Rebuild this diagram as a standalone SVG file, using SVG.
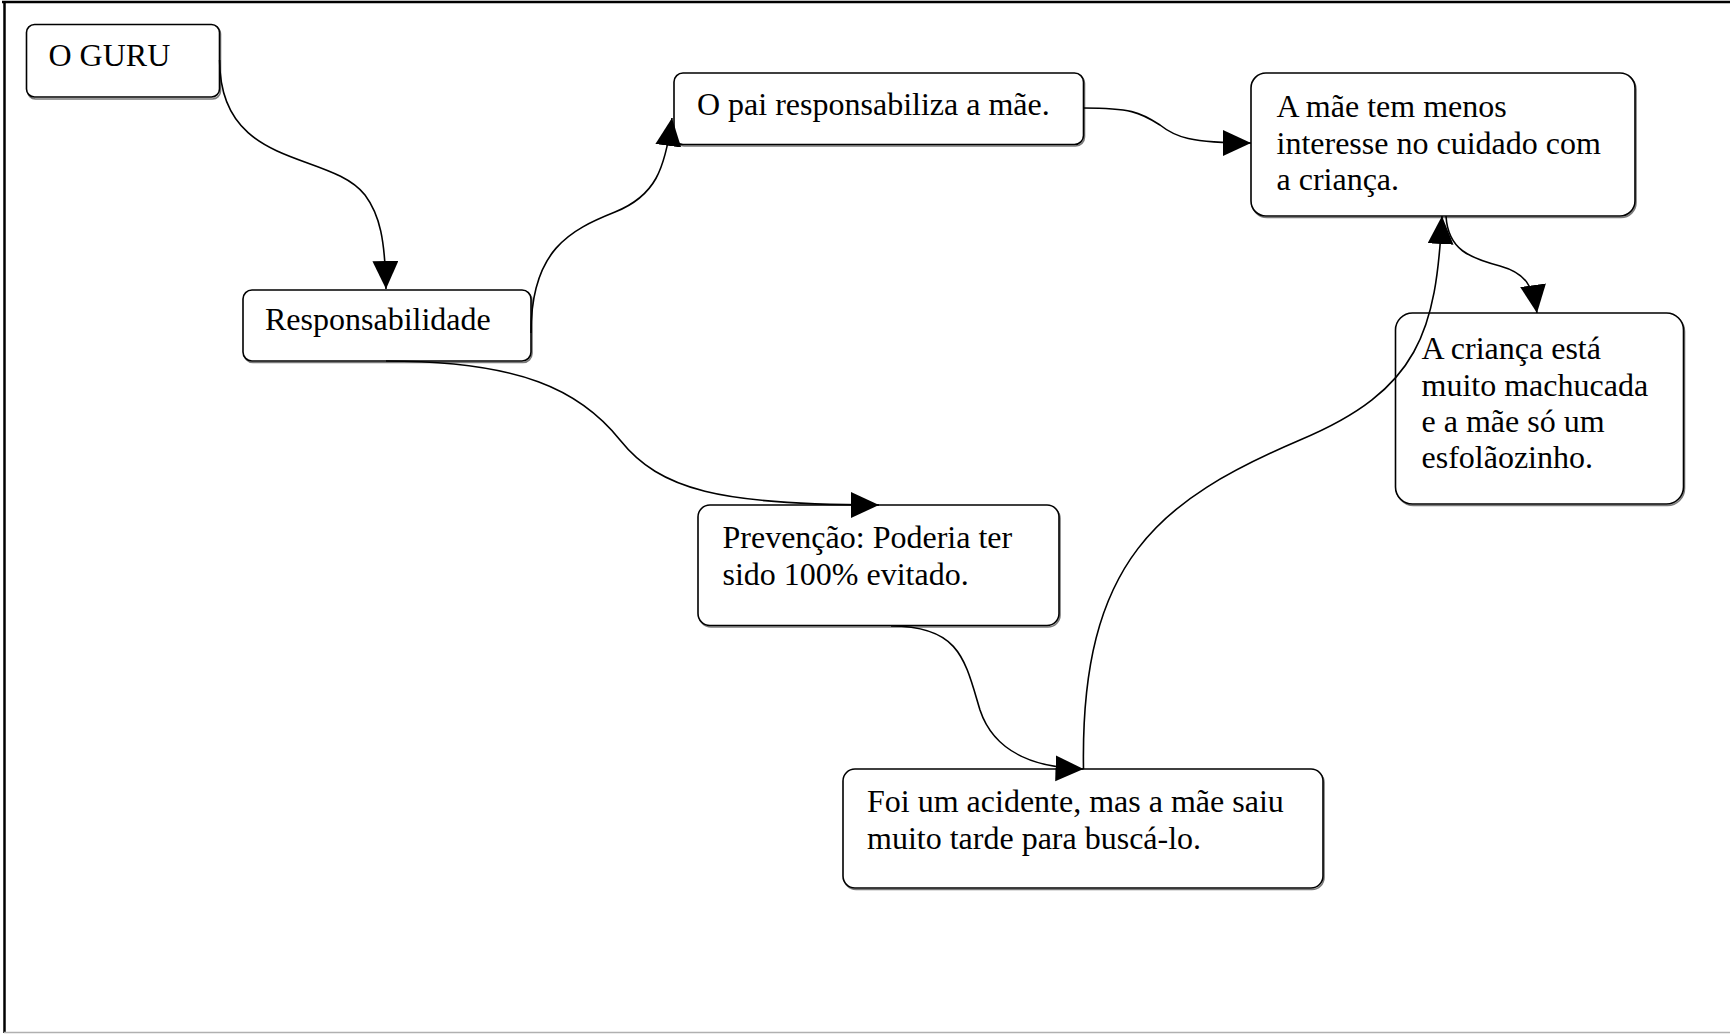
<svg xmlns="http://www.w3.org/2000/svg" width="1730" height="1034" viewBox="0 0 1730 1034">
  <style>
    .frame { fill: none; }
    .box { fill: #ffffff; stroke: #000000; stroke-width: 1.6; }
    .shadow { fill: none; stroke: #7a7a7a; stroke-width: 1.6; }
    .label { font-family: "Liberation Serif", "Times New Roman", serif; font-size: 32px; fill: #000000; }
    .edge { fill: none; stroke: #000000; stroke-width: 1.6; }
  </style>
  <defs>
    <marker id="arrow" markerUnits="userSpaceOnUse" markerWidth="30" markerHeight="28" refX="28" refY="13" orient="auto" viewBox="0 0 30 28">
      <path d="M0,0 L28,13 L0,26 z" fill="#000000"/>
    </marker>
  </defs>

  <rect width="1730" height="1034" fill="#ffffff"/>
  <!-- page frame -->
  <line x1="2" y1="2" x2="1730" y2="2" stroke="#000" stroke-width="2.5"/>
  <line x1="4.5" y1="2" x2="4.5" y2="1033" stroke="#000" stroke-width="2.5"/>
  <line x1="4" y1="1032.5" x2="1730" y2="1032.5" stroke="#b0b0b0" stroke-width="1.6"/>

  <!-- nodes -->
  <g id="node-guru">
    <rect class="shadow" x="27.5" y="26" width="193" height="73" rx="8"/>
    <rect class="box" x="26.5" y="24.5" width="193" height="72.5" rx="8"/>
    <text class="label" x="48.5" y="66">O GURU</text>
  </g>
  <g id="node-responsabilidade">
    <rect class="shadow" x="244" y="291.5" width="288" height="71" rx="9"/>
    <rect class="box" x="243" y="290" width="288" height="71" rx="9"/>
    <text class="label" x="265" y="330">Responsabilidade</text>
  </g>
  <g id="node-pai">
    <rect class="shadow" x="675" y="74.5" width="409.5" height="71.5" rx="9"/>
    <rect class="box" x="674" y="73" width="409.5" height="71.5" rx="9"/>
    <text class="label" x="697" y="115">O pai responsabiliza a mãe.</text>
  </g>
  <g id="node-mae-interesse">
    <rect class="shadow" x="1252" y="74.5" width="384" height="143" rx="15"/>
    <rect class="box" x="1251" y="73" width="384" height="143" rx="15"/>
    <text class="label" x="1276.5" y="117">A mãe tem menos</text>
    <text class="label" x="1276.5" y="153.5">interesse no cuidado com</text>
    <text class="label" x="1276.5" y="190">a criança.</text>
  </g>
  <g id="node-crianca">
    <rect class="shadow" x="1396.5" y="314.5" width="288" height="191" rx="17"/>
    <rect class="box" x="1395.5" y="313" width="288" height="191" rx="17"/>
    <text class="label" x="1421.5" y="359">A criança está</text>
    <text class="label" x="1421.5" y="395.5">muito machucada</text>
    <text class="label" x="1421.5" y="432">e a mãe só um</text>
    <text class="label" x="1421.5" y="468">esfolãozinho.</text>
  </g>
  <g id="node-prevencao">
    <rect class="shadow" x="699" y="506.5" width="361" height="120.5" rx="12"/>
    <rect class="box" x="698" y="505" width="361" height="120.5" rx="12"/>
    <text class="label" x="722.5" y="548">Prevenção: Poderia ter</text>
    <text class="label" x="722.5" y="584.5">sido 100% evitado.</text>
  </g>
  <g id="node-acidente">
    <rect class="shadow" x="844" y="770.5" width="480" height="119" rx="12"/>
    <rect class="box" x="843" y="769" width="480" height="119" rx="12"/>
    <text class="label" x="867" y="812">Foi um acidente, mas a mãe saiu</text>
    <text class="label" x="867" y="848.5">muito tarde para buscá-lo.</text>
  </g>

  <!-- connectors -->
  <g id="connectors">
    <path class="edge" marker-end="url(#arrow)" d="M 219.6 60 C 219.6 170, 330 150, 365 195 C 380 215, 385 240, 386 289"/>
    <path class="edge" marker-end="url(#arrow)" d="M 531 333 C 531 250, 570 230, 615 212 C 655 196, 665 170, 672 118"/>
    <path class="edge" marker-end="url(#arrow)" d="M 1083.5 108 C 1130 108, 1140 112, 1160 125 C 1175 137, 1190 143, 1251 143"/>
    <path class="edge" marker-end="url(#arrow)" d="M 1083.5 769 C 1080 560, 1160 500, 1300 440 C 1420 390, 1436 330, 1442 216"/>
    <path class="edge" marker-end="url(#arrow)" d="M 1446 216 C 1448 250, 1470 258, 1500 266 C 1525 273, 1533 285, 1537 313"/>
    <path class="edge" marker-end="url(#arrow)" d="M 386 361 C 520 361, 580 390, 620 440 C 660 490, 720 505, 879 505"/>
    <path class="edge" marker-end="url(#arrow)" d="M 891 626 C 960 626, 965 660, 980 710 C 995 755, 1040 768, 1083.5 769"/>
  </g>
</svg>
